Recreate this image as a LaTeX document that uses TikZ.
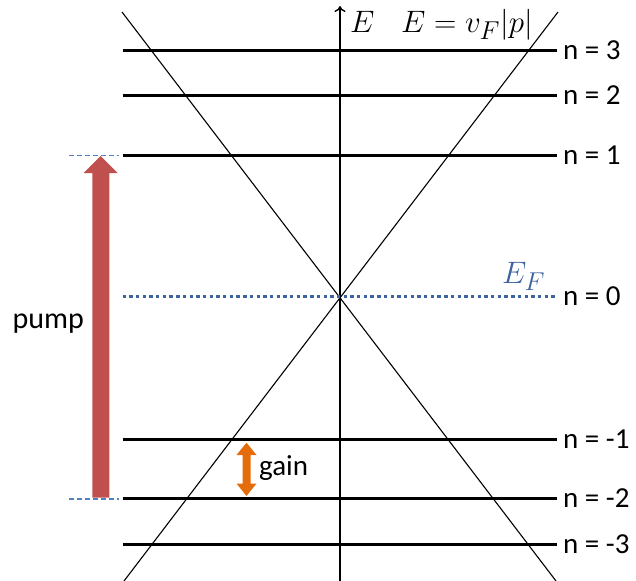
\documentclass[tikz,border=0pt]{standalone}
\usepackage{graphicx}
\usepackage{fontspec}
\setmainfont{Carlito}
\usetikzlibrary{arrows.meta}
\definecolor{pumpred}{HTML}{C0504D}
\definecolor{gainorange}{HTML}{E46C0A}
\definecolor{dashblue}{HTML}{4F81BD}
\definecolor{fermiblue}{HTML}{3E64A0}
\newcommand{\bigmath}[1]{\scalebox{1.246}{\fontsize{24.88}{30}\selectfont$#1$}}
\begin{document}
\begin{tikzpicture}[x=1pt,y=-1pt,
  lvl/.style={line width=3pt},
  diag/.style={line width=1.1pt},
  lab/.style={font=\fontsize{29}{35}\selectfont, anchor=base west, inner sep=0pt},
  mathlab/.style={anchor=base west, inner sep=0pt},
  guide/.style={dashblue, line width=1.5pt, dash pattern=on 5pt off 3pt}]
\useasboundingbox (0,0) rectangle (636,580);
% level end points
\foreach \nm/\yy in {p3/50.5, p2/96, p1/155.5, m1/439, m2/498.5, m3/544.5}{
  \coordinate (L\nm) at (122.5,\yy);
  \coordinate (R\nm) at (556.5,\yy);
}
\coordinate (L0) at (122.5,296.5);
\coordinate (R0) at (555,296.5);
% Dirac cone
\coordinate (dTL) at (122,12);
\coordinate (dBR) at (556,581);
\coordinate (dTR) at (558,12);
\coordinate (dBL) at (124,581);
\draw[diag] (dTL) -- (dBR);
\draw[diag] (dTR) -- (dBL);
% axis
\coordinate (axB) at (340,581);
\coordinate (axT) at (340,6);
\draw[line width=1.4pt, -{To[length=6pt,width=11pt]}] (axB) -- (axT);
% levels
\foreach \nm in {p3,p2,p1,m1,m2,m3}{ \draw[lvl] (L\nm) -- (R\nm); }
\draw[fermiblue, line width=3.4pt, dash pattern=on 3.4pt off 3.3pt] (L0) -- (R0);
% labels
\node[lab] (n3) at (563,59.5) {n = 3};
\node[lab] (n2) at (563,105) {n = 2};
\node[lab] (n1) at (563,164.5) {n = 1};
\node[lab] (n0) at (563,305.5) {n = 0};
\node[lab] (nm1) at (563,448) {n = -1};
\node[lab] (nm2) at (563,507.5) {n = -2};
\node[lab] (nm3) at (563,553.5) {n = -3};
\node[mathlab] (Eax) at (350,33) {\bigmath{E}};
\node[mathlab] (disp) at (401,33) {\bigmath{E=v_F|p|}};
\node[mathlab, text=fermiblue] (EF) at (502,283.5) {\bigmath{E_F}};
% pump guides
\coordinate (g1a) at (69,155.5);
\coordinate (g1b) at (119,155.5);
\coordinate (g2a) at (69,499);
\coordinate (g2b) at (119,499);
\draw[guide] (g1a) -- (g1b);
\draw[guide] (g2a) -- (g2b);
% pump arrow
\fill[pumpred] (92.3,497.7) -- (109.3,497.7) -- (109.3,173) -- (117.5,173) -- (100.5,156) -- (83.5,173) -- (92.3,173) -- cycle;
\node[lab, font=\fontsize{30}{36}\selectfont] (pump) at (12.5,328.5) {pump};
% gain arrow
\fill[gainorange] (246.5,442.7) -- (256.5,455) -- (250.5,455) -- (250.5,483.5) -- (256.5,483.5) -- (246.5,496) -- (236.5,483.5) -- (242.5,483.5) -- (242.5,455) -- (236.5,455) -- cycle;
\node[lab] (gain) at (259,475) {gain};
\end{tikzpicture}
\end{document}
